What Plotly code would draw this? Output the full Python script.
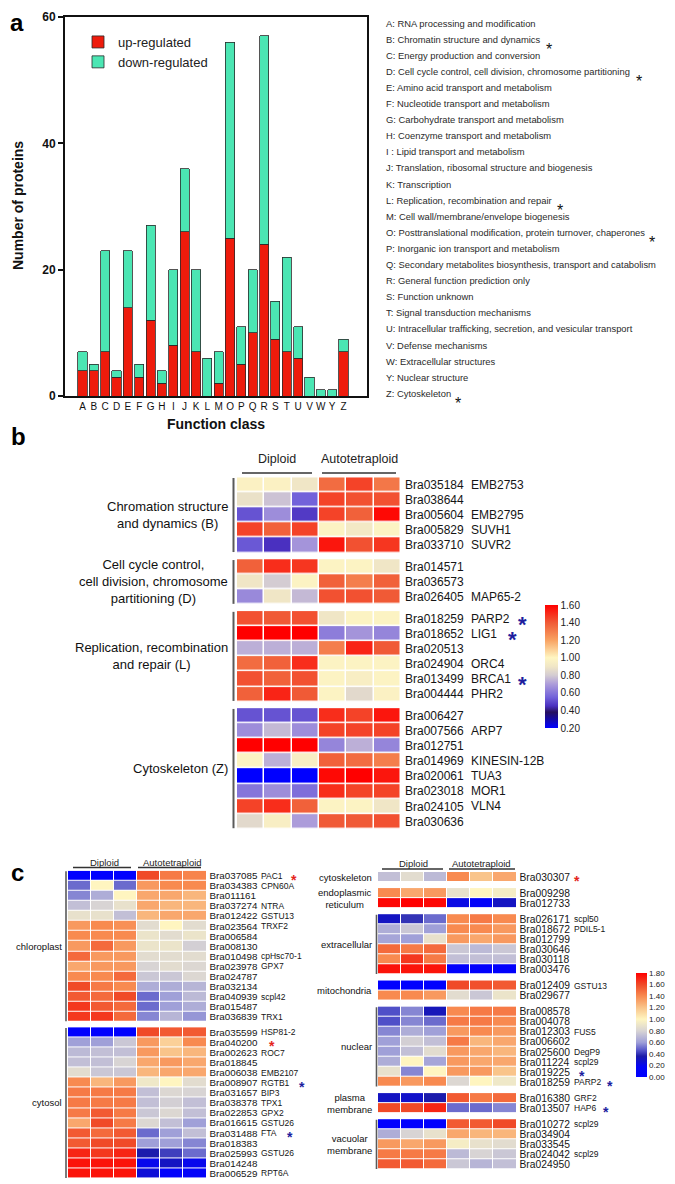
import plotly.graph_objects as go

W, H = 675, 1184
FONT = "Arial, 'Liberation Sans', Helvetica, sans-serif"
PAGE_OFFSET = 8  # the html body margin shifts the figure by 8 px


def px(x):
    return (x - PAGE_OFFSET) / W


def py(y):
    return 1 - (y - PAGE_OFFSET) / H


# ---------------- Panel a data ----------------
function_classes = ["A", "B", "C", "D", "E", "F", "G", "H", "I", "J", "K", "L",
                    "M", "O", "P", "Q", "R", "S", "T", "U", "V", "W", "Y", "Z"]
up_regulated = [4, 4, 7, 3, 14, 3, 12, 2, 8, 26, 7, 0, 2, 25, 5, 10, 24, 9, 7, 6, 0, 0, 0, 7]
down_regulated = [3, 1, 16, 1, 9, 2, 15, 2, 12, 10, 13, 6, 5, 31, 6, 10, 33, 6, 15, 5, 3, 1, 1, 2]
class_descriptions = [
    "A: RNA processing and modification",
    "B: Chromatin structure and dynamics",
    "C: Energy production and conversion",
    "D: Cell cycle control, cell division, chromosome partitioning",
    "E: Amino acid transport and metabolism",
    "F: Nucleotide transport and metabolism",
    "G: Carbohydrate transport and metabolism",
    "H: Coenzyme transport and metabolism",
    "I : Lipid transport and metabolism",
    "J: Translation, ribosomal structure and biogenesis",
    "K: Transcription",
    "L: Replication, recombination and repair",
    "M: Cell wall/membrane/envelope biogenesis",
    "O: Posttranslational modification, protein turnover, chaperones",
    "P: Inorganic ion transport and metabolism",
    "Q: Secondary metabolites biosynthesis, transport and catabolism",
    "R: General function prediction only",
    "S: Function unknown",
    "T: Signal transduction mechanisms",
    "U: Intracellular trafficking, secretion, and vesicular transport",
    "V: Defense mechanisms",
    "W: Extracellular structures",
    "Y: Nuclear structure",
    "Z: Cytoskeleton",
]
starred_classes = ["B", "D", "L", "O", "Z"]

# ---------------- Panel b data ----------------
b_groups = ["Chromation structure<br>and dynamics (B)",
            "Cell cycle control,<br>cell division, chromosome<br>partitioning (D)",
            "Replication, recombination<br>and repair (L)",
            "Cytoskeleton (Z)"]
b_group_sizes = [5, 3, 6, 8]
b_ids = ["Bra035184", "Bra038644", "Bra005604", "Bra005829", "Bra033710",
         "Bra014571", "Bra036573", "Bra026405",
         "Bra018259", "Bra018652", "Bra020513", "Bra024904", "Bra013499", "Bra004444",
         "Bra006427", "Bra007566", "Bra012751", "Bra014969", "Bra020061", "Bra023018",
         "Bra024105", "Bra030636"]
b_genes = ["EMB2753", "", "EMB2795", "SUVH1", "SUVR2",
           "", "", "MAP65-2",
           "PARP2", "LIG1", "", "ORC4", "BRCA1", "PHR2",
           "", "ARP7", "", "KINESIN-12B", "TUA3", "MOR1", "VLN4", ""]
b_diploid = [
    [0.97, 0.97, 0.90], [0.88, 0.78, 0.55], [0.52, 0.66, 0.47], [1.45, 1.38, 1.45], [0.53, 0.45, 0.68],
    [1.38, 1.50, 1.48], [0.90, 0.80, 0.98], [0.65, 0.90, 0.76],
    [1.42, 1.40, 1.42], [1.60, 1.60, 1.60], [0.74, 0.74, 0.74], [1.35, 1.38, 1.50], [1.42, 1.38, 1.42], [1.38, 1.52, 1.40],
    [0.52, 0.52, 0.52], [0.66, 0.76, 0.66], [1.60, 1.60, 1.60], [0.98, 0.74, 0.95], [0.20, 0.20, 0.20],
    [0.60, 0.66, 0.58], [1.45, 1.50, 1.38], [0.85, 0.95, 0.70],
]
b_autotetraploid = [
    [1.35, 1.45, 1.32], [1.45, 1.42, 1.42], [1.45, 1.38, 1.58], [0.98, 0.92, 0.98], [1.55, 1.42, 1.48],
    [0.98, 0.98, 0.90], [1.38, 1.30, 1.38], [1.42, 1.42, 1.40],
    [0.90, 0.98, 0.98], [0.62, 0.68, 0.64], [1.30, 1.52, 1.40], [0.98, 0.98, 0.98], [0.98, 0.95, 0.98], [0.98, 0.85, 0.97],
    [1.50, 1.45, 1.55], [1.45, 1.45, 1.45], [0.64, 0.74, 0.64], [1.38, 1.35, 1.30], [1.58, 1.60, 1.55],
    [1.50, 1.45, 1.45], [0.98, 0.98, 0.90], [1.40, 1.40, 1.42],
]
b_starred = ["Bra018259", "Bra018652", "Bra013499"]

# ---------------- Panel c (left) data ----------------
cl_groups = ["chloroplast", "cytosol"]
cl_group_sizes = [15, 15]
cl_ids = ["Bra037085", "Bra034383", "Bra011161", "Bra037274", "Bra012422", "Bra023564", "Bra006584",
          "Bra008130", "Bra010498", "Bra023978", "Bra024787", "Bra032134", "Bra040939", "Bra015487",
          "Bra036839",
          "Bra035599", "Bra040200", "Bra002623", "Bra018845", "Bra006038", "Bra008907", "Bra031657",
          "Bra038378", "Bra022853", "Bra016615", "Bra031488", "Bra018383", "Bra025993", "Bra014248",
          "Bra006529"]
cl_genes = ["PAC1", "CPN60A", "", "NTRA", "GSTU13", "TRXF2", "", "", "cpHsc70-1", "GPX7", "", "",
            "scpl42", "", "TRX1",
            "HSP81-2", "", "ROC7", "", "EMB2107", "RGTB1", "BIP3", "TPX1", "GPX2", "GSTU26", "FTA", "",
            "GSTU26", "", "RPT6A"]
cl_diploid = [
    [0.02, 0.02, 0.02], [0.50, 1.00, 0.50], [0.55, 0.65, 1.00], [0.72, 0.80, 0.88], [0.88, 0.88, 0.72],
    [1.35, 1.40, 1.38], [1.40, 1.40, 1.40], [1.35, 1.50, 1.35], [1.50, 1.35, 1.35], [1.30, 1.35, 1.35],
    [1.40, 1.40, 1.50], [1.60, 1.45, 1.40], [1.55, 1.50, 1.60], [1.65, 1.55, 1.50], [1.65, 1.65, 1.50],
    [0.02, 0.02, 0.02], [0.60, 0.60, 0.75], [0.70, 0.72, 0.72], [0.72, 0.72, 0.80], [0.85, 0.75, 0.75],
    [1.40, 1.25, 1.35], [1.45, 1.45, 1.45], [1.45, 1.45, 1.45], [1.45, 1.55, 1.45], [1.30, 1.60, 1.45],
    [1.55, 1.50, 1.55], [1.55, 1.60, 1.60], [1.70, 1.65, 1.70], [1.75, 1.75, 1.75], [1.75, 1.75, 1.75],
]
cl_autotetraploid = [
    [1.60, 1.45, 1.42], [1.35, 1.40, 1.40], [1.30, 1.30, 1.25], [1.30, 1.25, 1.25], [1.25, 1.30, 1.30],
    [0.85, 1.00, 0.85], [0.90, 0.85, 0.90], [0.90, 0.90, 0.78], [0.85, 0.85, 0.85], [0.80, 0.85, 0.82],
    [0.75, 0.75, 0.82], [0.65, 0.65, 0.68], [0.50, 0.60, 0.70], [0.50, 0.60, 0.65], [0.55, 0.68, 0.58],
    [1.60, 1.55, 1.55], [1.35, 1.15, 1.40], [1.35, 1.20, 1.25], [1.30, 1.35, 1.30], [1.25, 1.30, 1.30],
    [0.92, 1.00, 0.85], [0.72, 0.82, 0.80], [0.72, 0.78, 0.72], [0.75, 0.82, 0.72], [0.82, 0.72, 0.60],
    [0.50, 0.60, 0.72], [0.60, 0.60, 0.55], [0.35, 0.42, 0.50], [0.20, 0.30, 0.20], [0.25, 0.08, 0.10],
]
cl_starred_red = ["Bra037085", "Bra040200"]
cl_starred_blue = ["Bra008907", "Bra031488"]

# ---------------- Panel c (right) data ----------------
cr_groups = ["cytoskeleton", "endoplasmic<br>reticulum", "extracellular", "mitochondria", "nuclear",
             "plasma<br>membrane", "vacuolar<br>membrane"]
cr_group_sizes = [1, 2, 6, 2, 8, 2, 5]
cr_ids = ["Bra030307",
          "Bra009298", "Bra012733",
          "Bra026171", "Bra018672", "Bra012799", "Bra030646", "Bra030118", "Bra003476",
          "Bra012409", "Bra029677",
          "Bra008578", "Bra004078", "Bra012303", "Bra006602", "Bra025600", "Bra011224", "Bra019225",
          "Bra018259",
          "Bra016380", "Bra013507",
          "Bra010272", "Bra034904", "Bra033545", "Bra024042", "Bra024950"]
cr_genes = ["",
            "", "",
            "scpl50", "PDIL5-1", "", "", "", "",
            "GSTU13", "",
            "", "", "FUS5", "", "DegP9", "scpl29", "", "PARP2",
            "GRF2", "HAP6",
            "scpl29", "", "", "scpl29", ""]
cr_diploid = [
    [0.72, 0.85, 0.70],
    [1.40, 1.30, 1.35], [1.78, 1.80, 1.78],
    [0.30, 0.40, 0.50], [0.65, 0.75, 0.60], [0.62, 0.60, 0.88], [1.50, 1.45, 1.50], [1.40, 1.65, 1.45],
    [1.75, 1.75, 1.75],
    [0.02, 0.02, 0.02], [1.40, 1.40, 1.35],
    [0.45, 0.55, 0.32], [0.45, 0.55, 0.50], [0.55, 0.65, 0.60], [0.60, 0.78, 0.72], [0.60, 0.72, 0.85],
    [0.65, 1.00, 0.62], [0.88, 0.55, 1.00], [1.40, 1.35, 1.40],
    [0.30, 0.28, 0.35], [1.60, 1.60, 1.70],
    [0.02, 0.02, 0.02], [0.65, 0.80, 0.88], [1.35, 1.30, 1.35], [1.45, 1.45, 1.45], [1.55, 1.55, 1.50],
]
cr_autotetraploid = [
    [1.40, 1.20, 1.30],
    [0.88, 1.00, 0.95], [0.22, 0.10, 0.30],
    [1.40, 1.45, 1.40], [1.40, 1.40, 1.35], [1.35, 1.30, 1.35], [0.75, 0.70, 0.75], [0.72, 0.72, 0.72],
    [0.05, 0.05, 0.05],
    [1.60, 1.58, 1.55], [0.85, 0.75, 0.90],
    [1.40, 1.45, 1.45], [1.45, 1.45, 1.40], [1.35, 1.40, 1.35], [1.45, 1.25, 1.30], [1.35, 1.30, 1.25],
    [1.35, 1.30, 1.30], [1.35, 1.35, 1.20], [0.82, 1.00, 0.92],
    [1.55, 1.45, 1.50], [0.50, 0.50, 0.55],
    [1.55, 1.55, 1.60], [1.30, 1.25, 1.25], [0.95, 0.88, 0.85], [0.70, 0.80, 0.75], [0.75, 0.68, 0.72],
]
cr_group_has_bar = [False, False, True, False, True, False, True]
cr_starred_red = ["Bra030307"]
cr_starred_blue = ["Bra019225", "Bra018259", "Bra013507"]

# ---------------- layout constants (pixels) ----------------
RED_BAR = "#EE1B0C"
GREEN_BAR = "#4BE6B3"
STAR_BLUE = "#1E1E9E"
STAR_RED = "#E4241C"

STAR_X_A = {"B": 549, "D": 639, "L": 560, "O": 652, "Z": 458}
STAR_X_B = {"Bra018259": 522, "Bra018652": 512, "Bra013499": 522}
STAR_X_CL = {"Bra037085": 294, "Bra040200": 272, "Bra008907": 302, "Bra031488": 290}
STAR_X_CR = {"Bra030307": 577, "Bra019225": 582, "Bra018259": 610, "Bra013507": 606}

COLORSCALE_B = [
    [0.0, "#0000FF"], [0.1286, "#26105E"], [0.1786, "#4A30C0"], [0.25, "#7262DA"],
    [0.357, "#AC9CDA"], [0.4286, "#D4CCD2"], [0.5, "#F0E6C6"], [0.5714, "#FFF6C2"],
    [0.7143, "#F8A262"], [0.857, "#F05A36"], [1.0, "#FF0000"],
]
COLORSCALE_C = [
    [0.0, "#0000FF"], [0.1, "#0505F5"], [0.2, "#1C1CA8"], [0.25, "#5050C8"],
    [0.333, "#A0A0D8"], [0.444, "#D8D4D4"], [0.556, "#FFF5C0"], [0.667, "#F9C48A"],
    [0.778, "#F88A50"], [0.889, "#F04A28"], [1.0, "#FF0000"],
]

fig = go.Figure()
annotations = []
shapes = []

# ---------------- Panel a ----------------
fig.add_trace(go.Bar(x=function_classes, y=up_regulated, name="up-regulated",
                     marker=dict(color=RED_BAR, line=dict(color="#2a2a2a", width=0.8)),
                     xaxis="x", yaxis="y"))
fig.add_trace(go.Bar(x=function_classes, y=down_regulated, name="down-regulated",
                     marker=dict(color=GREEN_BAR, line=dict(color="#2a2a2a", width=0.8)),
                     xaxis="x", yaxis="y"))

A_TOP, A_STEP = 23, 16.1
for i, txt in enumerate(class_descriptions):
    yy = A_TOP + i * A_STEP
    annotations.append(dict(text=txt, x=px(384), y=py(yy), xref="paper", yref="paper",
                            xanchor="left", yanchor="middle", showarrow=False,
                            font=dict(size=9.4, family=FONT, color="#2a2a2a")))
    letter = function_classes[i]
    if letter in starred_classes:
        annotations.append(dict(text="*", x=px(STAR_X_A[letter]), y=py(yy + 6), xref="paper",
                                yref="paper", xanchor="center", yanchor="middle", showarrow=False,
                                yshift=-4, font=dict(size=16, family=FONT, color="#111")))

annotations.append(dict(text="<b>Number of proteins</b>", x=px(18), y=py(206), xref="paper",
                        yref="paper", textangle=-90, showarrow=False, xanchor="center",
                        yanchor="middle", font=dict(size=14, family=FONT, color="#111")))
annotations.append(dict(text="<b>Function class</b>", x=px(216), y=py(424), xref="paper",
                        yref="paper", showarrow=False, xanchor="center", yanchor="middle",
                        font=dict(size=14, family=FONT, color="#111")))

# panel letters; "a" is anchored to the top edge of the figure so it is not clipped
annotations.append(dict(text="<b>a</b>", x=px(8.5), y=1, xref="paper", yref="paper",
                        xanchor="left", yanchor="top", showarrow=False, borderpad=0,
                        font=dict(size=24, family=FONT, color="#000")))
for letter, yy in (("b", 436), ("c", 872)):
    annotations.append(dict(text="<b>%s</b>" % letter, x=px(8.5), y=py(yy), xref="paper",
                            yref="paper", xanchor="left", yanchor="middle", showarrow=False,
                            font=dict(size=24, family=FONT, color="#000")))


# ---------------- heatmap helpers ----------------
def heat_panel(n, sizes, dip, auto, coloraxis, gap, cellgap):
    positions = []
    start = 0.0
    idx = 0
    for size in sizes:
        pos = [start + k for k in range(size)]
        z = [list(dip[idx + k]) + list(auto[idx + k]) for k in range(size)]
        fig.add_trace(go.Heatmap(z=z, x=list(range(6)), y=pos, xaxis="x%d" % n,
                                 yaxis="y%d" % n, coloraxis=coloraxis, xgap=cellgap,
                                 ygap=cellgap, showlegend=False, hoverinfo="z"))
        positions.append(pos)
        idx += size
        start += size + gap
    return positions


def heat_axes(n, x0, x1, ytop, pitch, flat, ids, fsize, standoff):
    ybot = ytop + pitch * (flat[-1] + 1)
    fig.update_layout(**{
        "xaxis%d" % n: dict(domain=[px(x0), px(x1)], range=[-0.5, 5.5], anchor="y%d" % n,
                            showticklabels=False, showgrid=False, zeroline=False,
                            showline=False, ticks=""),
        "yaxis%d" % n: dict(domain=[py(ybot), py(ytop)], range=[flat[-1] + 0.5, -0.5],
                            anchor="x%d" % n, side="right", tickmode="array", tickvals=flat,
                            ticktext=ids, ticks="", showgrid=False, zeroline=False,
                            showline=False, ticklabelstandoff=standoff,
                            tickfont=dict(size=fsize, family=FONT, color="#151515")),
    })


def add_headers(xd, xa, ytext, yline, lines_x, fsize):
    annotations.append(dict(text="Diploid", x=px(xd), y=py(ytext), xref="paper", yref="paper",
                            showarrow=False, xanchor="center", yanchor="middle",
                            font=dict(size=fsize, family=FONT, color="#222")))
    annotations.append(dict(text="Autotetraploid", x=px(xa), y=py(ytext), xref="paper",
                            yref="paper", showarrow=False, xanchor="center", yanchor="middle",
                            font=dict(size=fsize, family=FONT, color="#222")))
    for (a, b) in lines_x:
        shapes.append(dict(type="line", xref="paper", yref="paper", x0=px(a), x1=px(b),
                           y0=py(yline), y1=py(yline), line=dict(color="#333", width=1.3)))


def add_labels(n, groups, positions, label_right, fsize, bar_x, bar_flags, bar_w):
    for gi, (g, pos) in enumerate(zip(groups, positions)):
        mid = (pos[0] + pos[-1]) / 2
        annotations.append(dict(text=g, x=px(label_right), y=mid, xref="paper", yref="y%d" % n,
                                showarrow=False, xanchor="right", yanchor="middle",
                                align="center", font=dict(size=fsize, family=FONT, color="#111")))
        if bar_flags[gi]:
            shapes.append(dict(type="line", xref="paper", yref="y%d" % n, x0=px(bar_x),
                               x1=px(bar_x), y0=pos[0] - 0.45, y1=pos[-1] + 0.45,
                               line=dict(color="#5a5a5a", width=bar_w)))


def add_genes(n, flat, genes, gx, fsize):
    for yv, g in zip(flat, genes):
        if g:
            annotations.append(dict(text=g, x=px(gx), y=yv, xref="paper", yref="y%d" % n,
                                    showarrow=False, xanchor="left", yanchor="middle",
                                    font=dict(size=fsize, family=FONT, color="#151515")))


def add_stars(n, flat, ids, starx, color_of, fsize):
    for yv, i in zip(flat, ids):
        if i in starx:
            annotations.append(dict(text="<b>*</b>", x=px(starx[i]), y=yv, xref="paper",
                                    yref="y%d" % n, showarrow=False, xanchor="center",
                                    yanchor="middle", yshift=-0.27 * fsize, borderpad=0,
                                    font=dict(size=fsize, family=FONT, color=color_of(i))))


# ---------------- Panel b ----------------
pos_b = heat_panel(2, b_group_sizes, b_diploid, b_autotetraploid, "coloraxis", 0.43, 1.5)
flat_b = [p for g in pos_b for p in g]
heat_axes(2, 237, 401, 477.3, 15.1, flat_b, b_ids, 12, 3)
add_headers(277, 359, 459, 473, [(242, 312), (322, 396)], 12.5)
add_labels(2, b_groups, pos_b, 230, 13, 233.5, [True] * 4, 2)
add_genes(2, flat_b, b_genes, 469, 12)
add_stars(2, flat_b, b_ids, STAR_X_B, lambda i: STAR_BLUE, 22)

# ---------------- Panel c left ----------------
pos_cl = heat_panel(3, cl_group_sizes, cl_diploid, cl_autotetraploid, "coloraxis2", 0.56, 1)
flat_cl = [p for g in pos_cl for p in g]
heat_axes(3, 68, 206.5, 870.7, 10.07, flat_cl, cl_ids, 9.8, 2)
add_headers(104, 172, 862, 867.5, [(73, 131), (138, 201)], 9.5)
add_labels(3, cl_groups, pos_cl, 64.5, 9.5, 66, [True, True], 1.6)
add_genes(3, flat_cl, cl_genes, 259, 8.5)
add_stars(3, flat_cl, cl_ids, STAR_X_CL,
          lambda i: STAR_RED if i in cl_starred_red else STAR_BLUE, 14)

# ---------------- Panel c right ----------------
pos_cr = heat_panel(4, cr_group_sizes, cr_diploid, cr_autotetraploid, "coloraxis2", 0.6, 1)
flat_cr = [p for g in pos_cr for p in g]
heat_axes(4, 378, 516.5, 872, 10.05, flat_cr, cr_ids, 10.3, 2)
add_headers(413, 481, 863, 869, [(382, 443), (449, 515)], 9.5)
add_labels(4, cr_groups, pos_cr, 374, 9.5, 376.5, cr_group_has_bar, 1.6)
add_genes(4, flat_cr, cr_genes, 572, 8.5)
add_stars(4, flat_cr, cr_ids, STAR_X_CR,
          lambda i: STAR_RED if i in cr_starred_red else STAR_BLUE, 14)

# ---------------- layout ----------------
fig.update_layout(
    width=W, height=H, margin=dict(l=0, r=0, t=0, b=0), template="none",
    paper_bgcolor="white", plot_bgcolor="white",
    font=dict(family=FONT, color="#111"),
    barmode="stack", bargap=0.2,
    xaxis=dict(domain=[px(65), px(367)], range=[-1.54, 25.07], anchor="y", showline=True,
               linecolor="#111", linewidth=2, mirror=True, ticks="", showgrid=False,
               zeroline=False, tickmode="array", tickvals=function_classes,
               ticktext=function_classes,
               tickfont=dict(size=10, family=FONT, color="#111")),
    yaxis=dict(domain=[py(396), py(17)], range=[0, 60], anchor="x", tickvals=[0, 20, 40, 60],
               ticks="outside", ticklen=5, tickwidth=2, tickcolor="#111", showline=True,
               linecolor="#111", linewidth=2, mirror=True, showgrid=False, zeroline=False,
               tickfont=dict(size=12, family=FONT, color="#111", weight="bold")),
    legend=dict(x=px(78), y=py(27), xanchor="left", yanchor="top", traceorder="normal",
                font=dict(size=13, family=FONT, color="#222"), bgcolor="rgba(0,0,0,0)",
                itemwidth=30, tracegroupgap=0),
    coloraxis=dict(cmin=0.2, cmax=1.6, colorscale=COLORSCALE_B,
                   colorbar=dict(x=px(545), xanchor="left", y=py(605), yanchor="top",
                                 len=123, lenmode="pixels", thickness=13, xpad=0, ypad=0,
                                 outlinewidth=0, tickvals=[0.2, 0.4, 0.6, 0.8, 1.0, 1.2, 1.4, 1.6],
                                 ticktext=["0.20", "0.40", "0.60", "0.80", "1.00", "1.20", "1.40", "1.60"],
                                 ticks="", tickfont=dict(size=10, family=FONT, color="#222"))),
    coloraxis2=dict(cmin=0.0, cmax=1.8, colorscale=COLORSCALE_C,
                    colorbar=dict(x=px(636), xanchor="left", y=py(973), yanchor="top",
                                  len=104, lenmode="pixels", thickness=11, xpad=0, ypad=0,
                                  outlinewidth=0,
                                  tickvals=[0.0, 0.2, 0.4, 0.6, 0.8, 1.0, 1.2, 1.4, 1.6, 1.8],
                                  ticktext=["0.00", "0.20", "0.40", "0.60", "0.80", "1.00",
                                            "1.20", "1.40", "1.60", "1.80"],
                                  ticks="", tickfont=dict(size=8, family=FONT, color="#222"))),
    annotations=annotations, shapes=shapes,
)

fig.write_html("out.html")
